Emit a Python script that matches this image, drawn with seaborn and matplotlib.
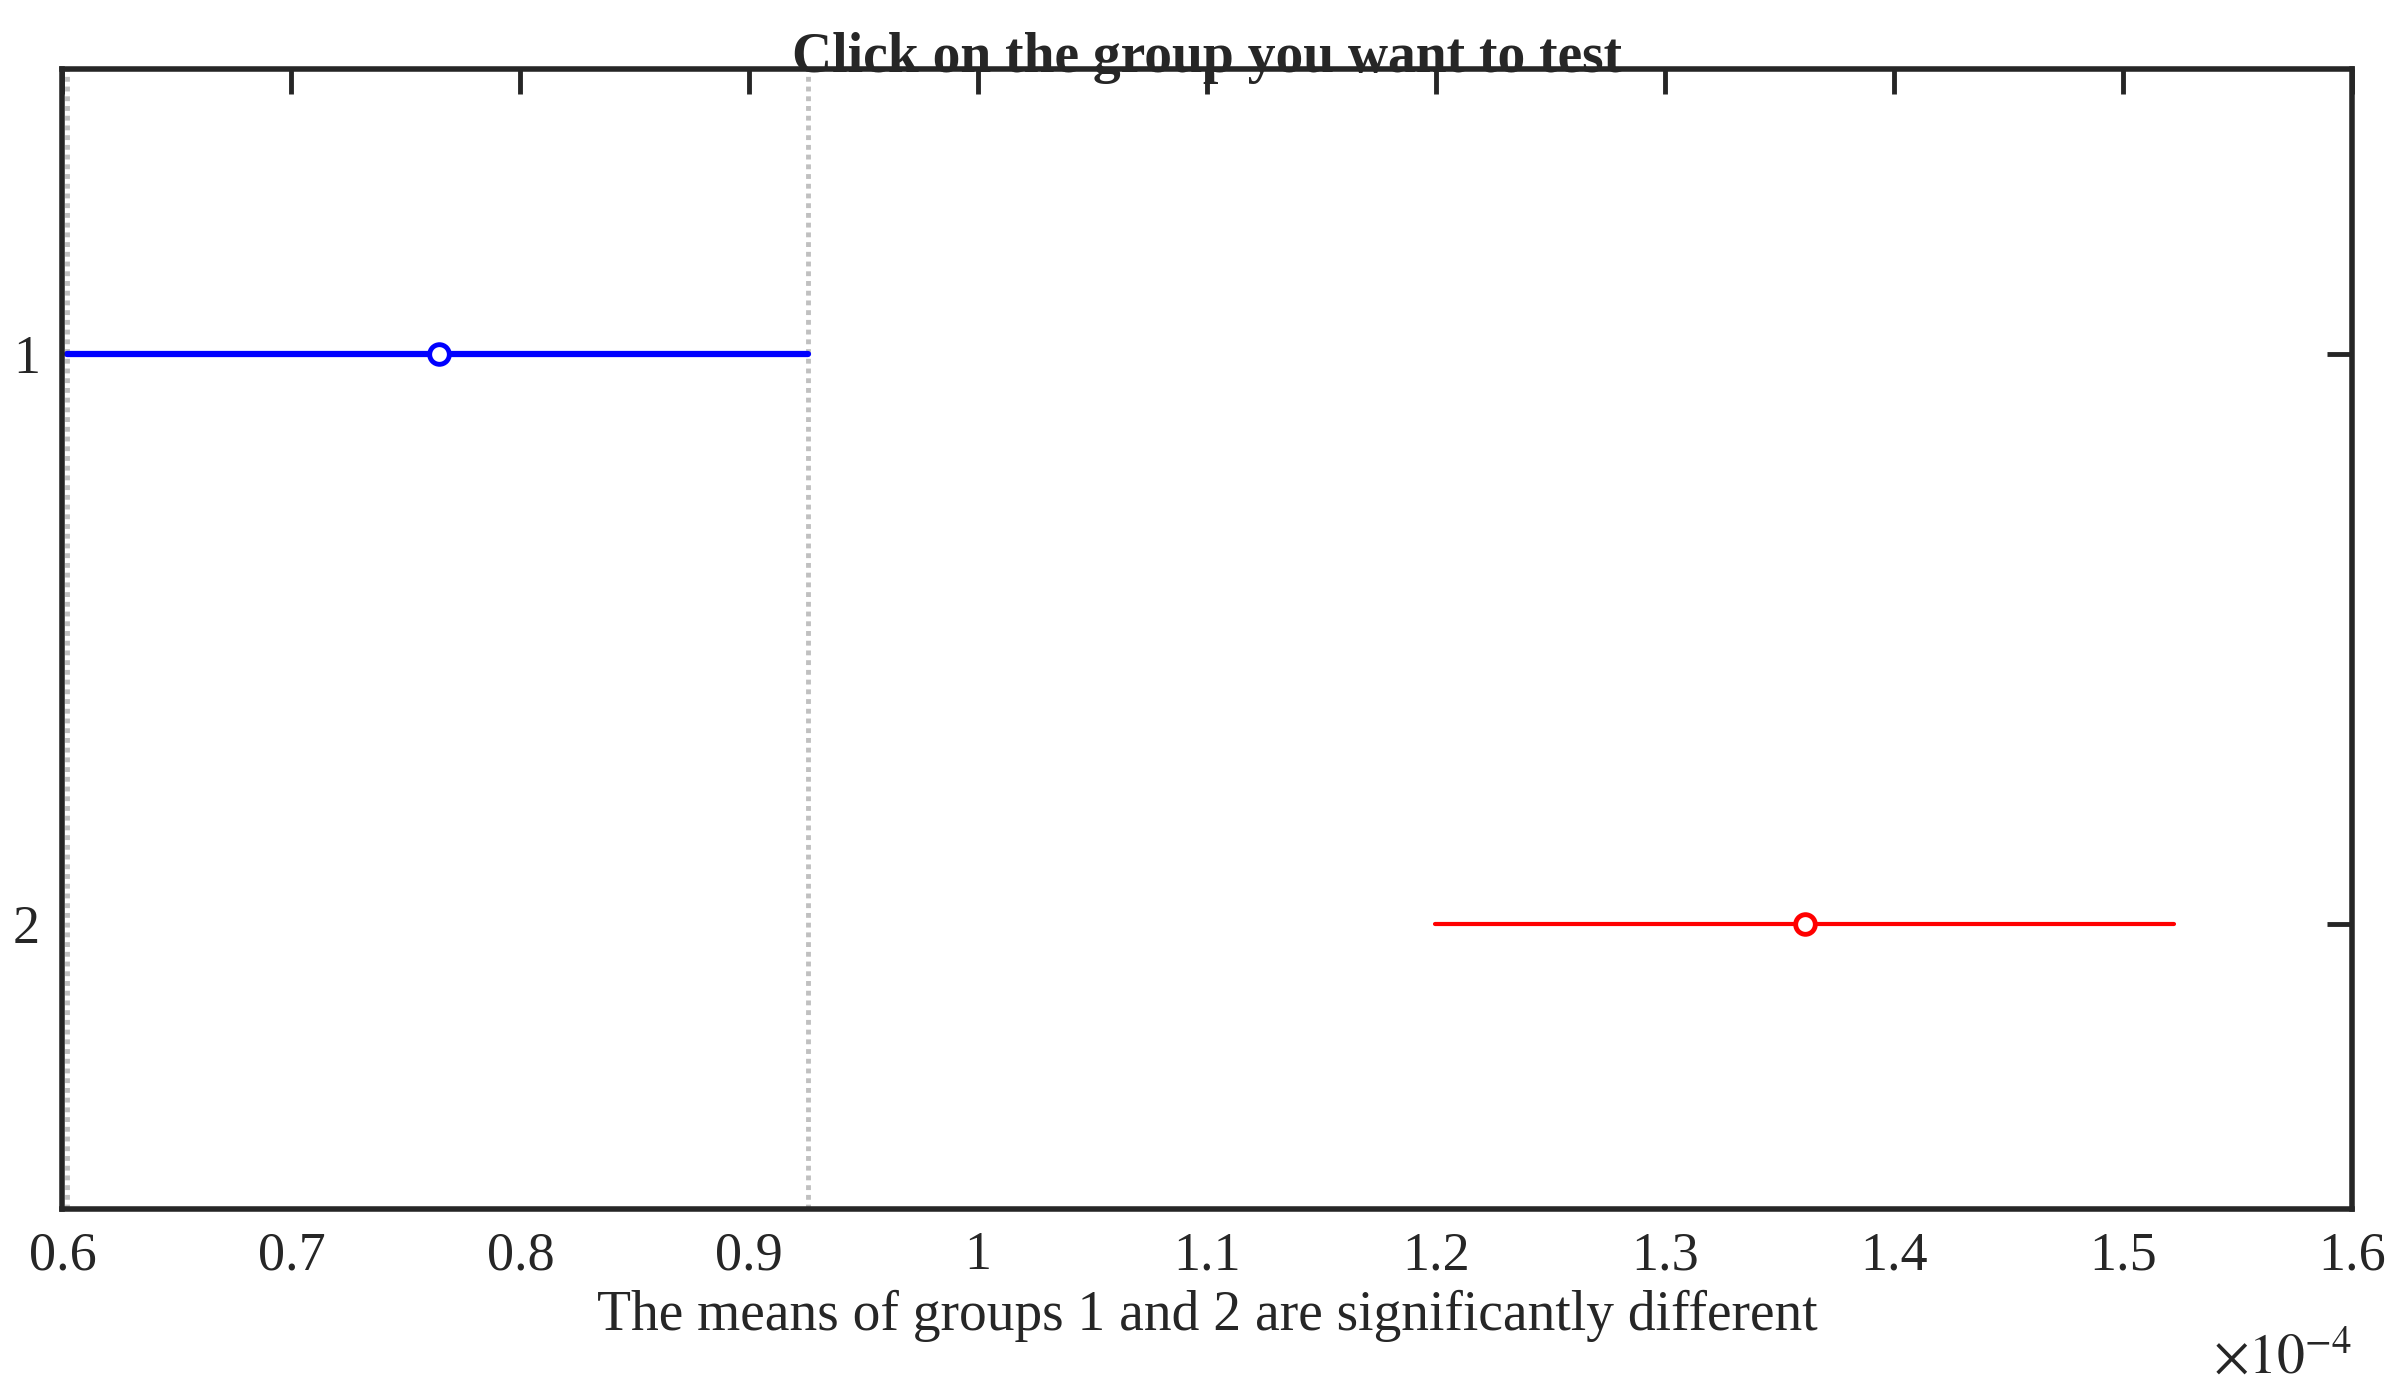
import matplotlib
matplotlib.use("Agg")
import matplotlib.pyplot as plt
import seaborn as sns

# values in units of 1e-4
groups = [1, 2]
means = [0.7645, 1.3612]
lows = [0.6020, 1.1994]
highs = [0.9257, 1.5224]
colors = ["#0000ff", "#ff0000"]
xticks = [0.6, 0.7, 0.8, 0.9, 1.0, 1.1, 1.2, 1.3, 1.4, 1.5, 1.6]
xtick_labels = ["0.6", "0.7", "0.8", "0.9", "1", "1.1", "1.2", "1.3", "1.4", "1.5", "1.6"]

sns.set_style("white")
plt.rcParams["font.family"] = ["Liberation Serif", "DejaVu Serif"]
plt.rcParams["mathtext.fontset"] = "stix"

fig = plt.figure(figsize=(24, 13.86), dpi=100)
ax = fig.add_axes([0.026, 0.128, 0.954, 0.822])

# comparison interval of the selected group
for xv in (lows[0], highs[0]):
    ax.axvline(xv, color="#c0c0c0", linestyle=(0, (1, 1)), linewidth=3.5, zorder=1)

for g, m, lo, hi, c in zip(groups, means, lows, highs, colors):
    ax.plot([lo, hi], [g, g], color=c, linewidth=4.5 if g == 1 else 3, zorder=2)
    sns.scatterplot(x=[m], y=[g], ax=ax, s=200, facecolor="white", edgecolor=c,
                    linewidth=3.5, marker="o", zorder=3, legend=False)

ax.set_xlim(0.6, 1.6)
ax.set_ylim(2.5, 0.5)
ax.set_xticks(xticks)
ax.set_xticklabels(xtick_labels)
ax.set_yticks(groups)
ax.set_yticklabels([str(g) for g in groups])
ax.tick_params(direction="in", length=18, width=3.5, labelsize=39, top=True, right=True,
               pad=16, colors="#262626")
for s in ax.spines.values():
    s.set_linewidth(4)
    s.set_color("#262626")

ax.set_title("Click on the group you want to test", fontsize=40, fontweight="bold", pad=-2)
ax.set_xlabel("The means of groups 1 and 2 are significantly different", fontsize=40, labelpad=6)
ax.text(1.0, -0.11, r"$\times10^{-4}$", transform=ax.transAxes, ha="right", va="top",
        fontsize=40, color="#262626")

fig.savefig("out.png", dpi=100)
